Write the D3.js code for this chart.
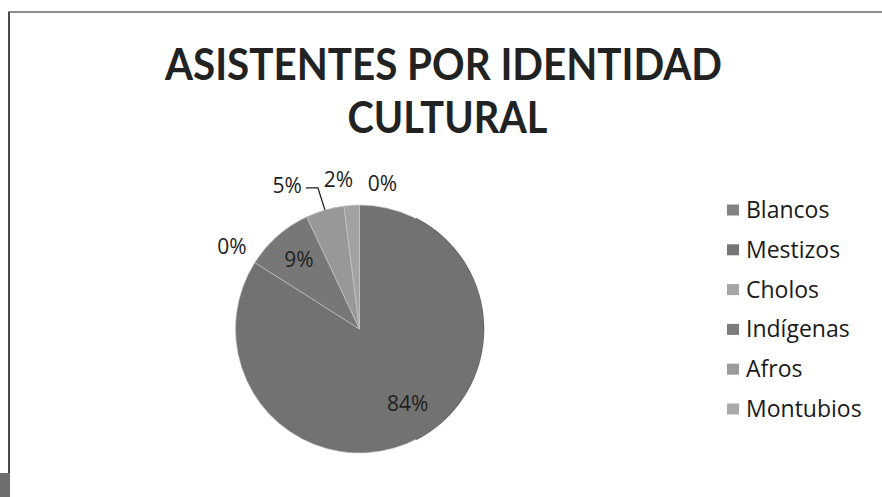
<!DOCTYPE html>
<html>
<head>
<meta charset="utf-8">
<script src="https://cdn.jsdelivr.net/npm/d3@7"></script>
<style>
  html, body { margin: 0; padding: 0; background: #ffffff; }
  svg { display: block; }
</style>
</head>
<body>
<svg id="chart" width="882" height="497"></svg>
<script>
// ---- data ----
const titleLines = ["ASISTENTES POR IDENTIDAD", "CULTURAL"];
const categories = ["Blancos", "Mestizos", "Cholos", "Indígenas", "Afros", "Montubios"];
const values = [0, 84, 0, 9, 5, 2];
const labels = ["0%", "84%", "0%", "9%", "5%", "2%"];
const sliceColors = ["#7c7c7c", "#727272", "#a3a3a3", "#777777", "#989898", "#a2a2a2"];
const legendColors = ["#838383", "#767676", "#a6a6a6", "#7c7c7c", "#9b9b9b", "#a9a9a9"];

// ---- layout ----
const svg = d3.select("#chart");
const W = 882, H = 497;
const cx = 359.5, cy = 329, R = 124;
const font = "'Open Sans', 'DejaVu Sans', sans-serif";
const titleFont = "Lato, 'Open Sans', sans-serif";

svg.append("rect").attr("width", W).attr("height", H).attr("fill", "#ffffff");

// scanned page frame
svg.append("line").attr("x1", 8).attr("x2", W).attr("y1", 12).attr("y2", 12)
  .attr("stroke", "#6a6a6a").attr("stroke-width", 1.3);
svg.append("line").attr("x1", 9).attr("x2", 9).attr("y1", 12).attr("y2", 474)
  .attr("stroke", "#4a4a4a").attr("stroke-width", 2);
svg.append("rect").attr("x", 0).attr("y", 473).attr("width", 10).attr("height", 24)
  .attr("fill", "#6e6e6e");

// title
const titleY = [80, 133];
const titleW = [557, 200];
const titleX = [443.5, 447.5];
titleLines.forEach((t, i) => {
  svg.append("text")
    .attr("x", titleX[i]).attr("y", titleY[i])
    .attr("text-anchor", "middle")
    .attr("font-family", titleFont).attr("font-weight", 700)
    .attr("font-size", 43)
    .attr("fill", "#222")
    .attr("textLength", titleW[i])
    .attr("lengthAdjust", "spacingAndGlyphs")
    .text(t);
});

// pie
const data = categories.map((c, i) => ({ cat: c, value: values[i], label: labels[i], i }));
const pie = d3.pie().sort(null).value(d => d.value);
const arcs = pie(data);
const arc = d3.arc().innerRadius(0).outerRadius(R);
const g = svg.append("g").attr("transform", `translate(${cx},${cy})`);

g.selectAll("path.slice")
  .data(arcs.filter(a => a.data.value > 0))
  .join("path")
  .attr("class", "slice")
  .attr("d", arc)
  .attr("fill", d => sliceColors[d.data.i])
  .attr("stroke", "#c8c8c8")
  .attr("stroke-width", 0.6);

// thin darker rim on right side like scan
g.append("path")
  .attr("d", d3.arc().innerRadius(R - 0.5).outerRadius(R + 0.8).startAngle(Math.PI * 0.15).endAngle(Math.PI * 0.85)())
  .attr("fill", "#3a3a3a").attr("opacity", 0.7);

// labels
const mid = a => (a.startAngle + a.endAngle) / 2;
const pt = (ang, r) => [r * Math.sin(ang), -r * Math.cos(ang)];
const labelSize = 21;
const lbl = g.append("g").attr("font-family", font).attr("font-size", labelSize).attr("fill", "#1e1e1e");

arcs.forEach(a => {
  const m = mid(a);
  let x, y, anchor = "middle";
  if (a.data.value >= 9) {
    const p = pt(m, R * (a.data.value > 50 ? 0.69 : 0.74));
    x = p[0] + (a.data.value > 50 ? 7 : 0); y = p[1] + 7;
  } else if (a.data.cat === "Afros") {
    const e = pt(m, R);
    const bend = [e[0] - 7, e[1] - 22];
    const end = [e[0] - 19, e[1] - 22];
    g.append("polyline")
      .attr("points", [e, bend, end].map(p => p.join(",")).join(" "))
      .attr("fill", "none").attr("stroke", "#1e1e1e").attr("stroke-width", 1.3);
    x = end[0] - 4; y = end[1] + 5; anchor = "end";
  } else if (a.data.cat === "Cholos") {
    const p = pt(m, R + 18);
    x = p[0] + 7; y = p[1] + 1; anchor = "end";
  } else if (a.data.cat === "Blancos") {
    const p = pt(m, R + 20);
    x = p[0] + 23; y = p[1] + 6;
  } else {
    const p = pt(m, R + 20);
    x = p[0] - 12; y = p[1] + 2;
  }
  lbl.append("text").attr("x", x).attr("y", y).attr("text-anchor", anchor).text(a.data.label);
});

// legend
const legY = d3.scalePoint().domain(categories).range([210, 409]);
const leg = svg.append("g").attr("font-family", font).attr("font-size", 23).attr("fill", "#1a1a1a");
categories.forEach((c, i) => {
  const y = legY(c);
  leg.append("rect").attr("x", 727).attr("y", y - 5.5).attr("width", 12).attr("height", 11)
    .attr("fill", legendColors[i]);
  leg.append("text").attr("x", 746).attr("y", y + 8).text(c);
});
</script>
</body>
</html>
